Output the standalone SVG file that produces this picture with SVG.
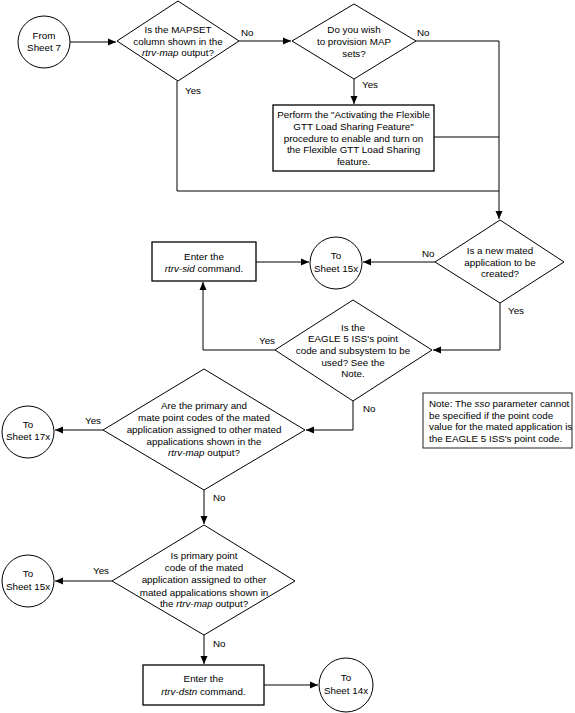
<svg xmlns="http://www.w3.org/2000/svg" width="575" height="713" viewBox="0 0 575 713">
<style>
text{font-family:"Liberation Sans",Arial,sans-serif;font-size:9.8px;fill:#000}
.c{text-anchor:middle}
.i{font-style:italic}
.s{fill:#fff;stroke:#000;stroke-width:1}
.b{fill:#fff;stroke:#000;stroke-width:1.3}
.l{fill:none;stroke:#000;stroke-width:1}
</style>
<defs>
<marker id="a" markerUnits="userSpaceOnUse" markerWidth="9" markerHeight="8" refX="8" refY="4" orient="auto">
<path d="M0,0.5 L8,4 L0,7.5 Z" fill="#000"/>
</marker>
</defs>
<rect width="575" height="713" fill="#fff"/>
<g id="connectors">
<path class="l" d="M70,42 H116" marker-end="url(#a)"/>
<path class="l" d="M239,41 H291" marker-end="url(#a)"/>
<path class="l" d="M416,41 H499 V219" marker-end="url(#a)"/>
<path class="l" d="M354,79 V104" marker-end="url(#a)"/>
<path class="l" d="M434,137 H499"/>
<path class="l" d="M177,81 V191 H499"/>
<path class="l" d="M435,262 H363" marker-end="url(#a)"/>
<path class="l" d="M256,262 H309" marker-end="url(#a)"/>
<path class="l" d="M500,303 V350 H433" marker-end="url(#a)"/>
<path class="l" d="M275,350 H203 V282" marker-end="url(#a)"/>
<path class="l" d="M353,401 V430 H306" marker-end="url(#a)"/>
<path class="l" d="M103,430 H55" marker-end="url(#a)"/>
<path class="l" d="M204,490 V524" marker-end="url(#a)"/>
<path class="l" d="M112,581 H55" marker-end="url(#a)"/>
<path class="l" d="M204,635 V664" marker-end="url(#a)"/>
<path class="l" d="M264,685 H318" marker-end="url(#a)"/>
<text x="241" y="36">No</text>
<text x="417" y="36">No</text>
<text x="185" y="94">Yes</text>
<text x="362" y="88">Yes</text>
<text x="422" y="257">No</text>
<text x="508" y="314">Yes</text>
<text x="259" y="344">Yes</text>
<text x="363" y="412">No</text>
<text x="85" y="424">Yes</text>
<text x="213" y="501">No</text>
<text x="93" y="574">Yes</text>
<text x="213" y="647">No</text>
</g>
<g id="fromSheet7">
<circle class="s" cx="44" cy="42" r="26"/>
<text class="c" x="44" y="39">From</text>
<text class="c" x="44" y="51">Sheet 7</text>
</g>
<g id="d1">
<polygon class="s" points="117,41 178,1 239,41 178,81"/>
<text class="c" x="178" y="33">Is the MAPSET</text>
<text class="c" x="178" y="45">column shown in the</text>
<text class="c" x="178" y="56"><tspan class="i">rtrv-map</tspan> output?</text>
</g>
<g id="d2">
<polygon class="s" points="292,41 354,4 416,41 354,79"/>
<text class="c" x="354" y="33">Do you wish</text>
<text class="c" x="354" y="45">to provision MAP</text>
<text class="c" x="354" y="57">sets?</text>
</g>
<g id="perform">
<rect class="b" x="273" y="105" width="161" height="66"/>
<text class="c" x="353.5" y="118">Perform the "Activating the Flexible</text>
<text class="c" x="353.5" y="129.8">GTT Load Sharing Feature"</text>
<text class="c" x="353.5" y="141.6">procedure to enable and turn on</text>
<text class="c" x="353.5" y="153.4">the Flexible GTT Load Sharing</text>
<text class="c" x="353.5" y="165.2">feature.</text>
</g>
<g id="d3">
<polygon class="s" points="435,262 500,220 564,262 500,303"/>
<text class="c" x="500" y="254">Is a new mated</text>
<text class="c" x="500" y="266">application to be</text>
<text class="c" x="500" y="277">created?</text>
</g>
<g id="toSheet15a">
<circle class="s" cx="336" cy="263" r="26"/>
<text class="c" x="336" y="259">To</text>
<text class="c" x="336" y="272">Sheet 15x</text>
</g>
<g id="rtrvSid">
<rect class="b" x="152" y="242" width="104" height="39"/>
<text class="c" x="204" y="260">Enter the</text>
<text class="c" x="204" y="272"><tspan class="i">rtrv-sid</tspan> command.</text>
</g>
<g id="d4">
<polygon class="s" points="275,350 353,300 432,350 353,401"/>
<text class="c" x="353" y="331">Is the</text>
<text class="c" x="353" y="342">EAGLE 5 ISS's point</text>
<text class="c" x="353" y="354">code and subsystem to be</text>
<text class="c" x="353" y="366">used? See the</text>
<text class="c" x="353" y="377">Note.</text>
</g>
<g id="note">
<rect x="423" y="393" width="149" height="55" fill="#fff" stroke="#222" stroke-width="1"/>
<text x="429" y="407">Note: The <tspan class="i">sso</tspan> parameter cannot</text>
<text x="429" y="418.5">be specified if the point code</text>
<text x="429" y="430">value for the mated application is</text>
<text x="429" y="441.5">the EAGLE 5 ISS's point code.</text>
</g>
<g id="d5">
<polygon class="s" points="103,430 204,369 305,430 204,490"/>
<text class="c" x="204" y="409">Are the primary and</text>
<text class="c" x="204" y="421">mate point codes of the mated</text>
<text class="c" x="204" y="433">application assigned to other mated</text>
<text class="c" x="204" y="445">appalications shown in the</text>
<text class="c" x="204" y="456"><tspan class="i">rtrv-map</tspan> output?</text>
</g>
<g id="toSheet17">
<circle class="s" cx="28" cy="432" r="26"/>
<text class="c" x="28" y="428">To</text>
<text class="c" x="28" y="440">Sheet 17x</text>
</g>
<g id="d6">
<polygon class="s" points="112,581 204,525 295,581 204,635"/>
<text class="c" x="204" y="559">Is primary point</text>
<text class="c" x="204" y="571">code of the mated</text>
<text class="c" x="204" y="583">application assigned to other</text>
<text class="c" x="204" y="596">mated appalications shown in</text>
<text class="c" x="204" y="607">the <tspan class="i">rtrv-map</tspan> output?</text>
</g>
<g id="toSheet15b">
<circle class="s" cx="28" cy="581" r="26"/>
<text class="c" x="28" y="577">To</text>
<text class="c" x="28" y="590">Sheet 15x</text>
</g>
<g id="rtrvDstn">
<rect class="b" x="143" y="665" width="121" height="40"/>
<text class="c" x="203.5" y="682">Enter the</text>
<text class="c" x="203.5" y="695"><tspan class="i">rtrv-dstn</tspan> command.</text>
</g>
<g id="toSheet14">
<circle class="s" cx="346" cy="685" r="27"/>
<text class="c" x="346" y="681">To</text>
<text class="c" x="346" y="694">Sheet 14x</text>
</g>
</svg>
